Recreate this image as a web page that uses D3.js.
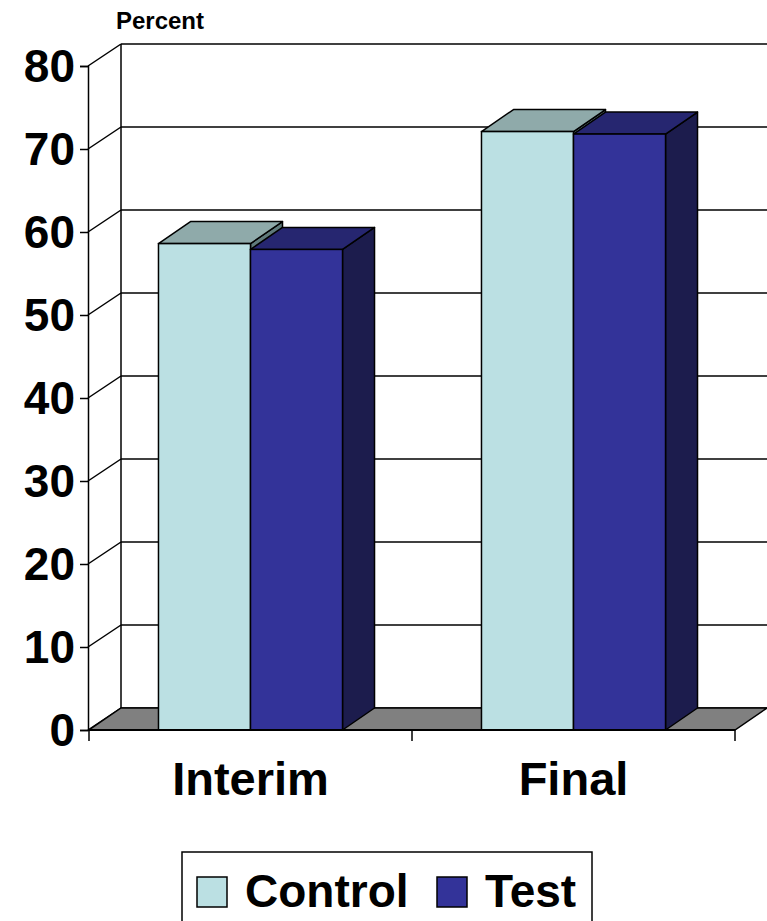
<!DOCTYPE html>
<html>
<head>
<meta charset="utf-8">
<script src="https://cdn.jsdelivr.net/npm/d3@7"></script>
<style>
  body { margin: 0; background: #fff; }
  text { font-family: Arial, "Liberation Sans", sans-serif; font-weight: bold; fill: #000; }
</style>
</head>
<body>
<div id="chart"></div>
<script>
// data
var categories = ["Interim", "Final"];
var seriesNames = ["Control", "Test"];
var controlValues = [58.6, 72.1];
var testValues = [57.9, 71.8];
var yTicks = [0, 10, 20, 30, 40, 50, 60, 70, 80];

var width = 767, height = 921;
var dx = 32, dy = -22; // depth of the 3d box

var colors = {
  Control: { front: "#bbe0e3", top: "#8faaaa", side: "#5f7a7b" },
  Test:    { front: "#333399", top: "#262670", side: "#1c1c4d" }
};

var svg = d3.select("#chart").append("svg")
    .attr("width", width)
    .attr("height", height);

var x0 = d3.scaleBand().domain(categories).range([89, 735]).padding(0);
var x1 = d3.scaleBand().domain(seriesNames).range([0, x0.bandwidth()])
    .paddingInner(0).paddingOuter(0.755);
var y = d3.scaleLinear().domain([0, 80]).range([730, 66]);

var x0L = x0.range()[0], x0R = x0.range()[1];

// back wall grid lines
svg.append("g").selectAll("line.grid")
  .data(yTicks)
  .enter().append("line")
    .attr("x1", x0L + dx).attr("x2", x0R + dx)
    .attr("y1", d => y(d) + dy).attr("y2", d => y(d) + dy)
    .attr("stroke", "#000").attr("stroke-width", 1.5);

// left side wall: diagonals
svg.append("g").selectAll("line.diag")
  .data(yTicks)
  .enter().append("line")
    .attr("x1", x0L - 1).attr("x2", x0L + dx)
    .attr("y1", d => y(d)).attr("y2", d => y(d) + dy)
    .attr("stroke", "#000").attr("stroke-width", 1.5);

// back wall left edge
svg.append("line")
  .attr("x1", x0L + dx).attr("x2", x0L + dx)
  .attr("y1", y(80) + dy).attr("y2", y(0) + dy)
  .attr("stroke", "#000").attr("stroke-width", 1.5);

// floor
var floorPts = [[x0L, y(0)], [x0R, y(0)], [x0R + dx, y(0) + dy], [x0L + dx, y(0) + dy]];
svg.append("polygon")
  .attr("points", floorPts.map(p => p.join(",")).join(" "))
  .attr("fill", "#808080").attr("stroke", "#000").attr("stroke-width", 1.5);

// bars
var groups = svg.append("g").selectAll("g.cat")
  .data(categories)
  .enter().append("g")
    .attr("transform", d => "translate(" + x0(d) + ",0)");

groups.each(function(cat, i) {
  var g = d3.select(this);
  var rows = [
    { name: "Control", value: controlValues[i] },
    { name: "Test", value: testValues[i] }
  ];
  rows.forEach(function(r) {
    var xl = x1(r.name), xr = xl + x1.bandwidth();
    var yt = y(r.value), yb = y(0);
    var c = colors[r.name];
    g.append("polygon") // side
      .attr("points", [[xr, yt], [xr + dx, yt + dy], [xr + dx, yb + dy], [xr, yb]].map(p => p.join(",")).join(" "))
      .attr("fill", c.side).attr("stroke", "#000").attr("stroke-width", 1.5).attr("stroke-linejoin", "round");
    g.append("polygon") // top
      .attr("points", [[xl, yt], [xl + dx, yt + dy], [xr + dx, yt + dy], [xr, yt]].map(p => p.join(",")).join(" "))
      .attr("fill", c.top).attr("stroke", "#000").attr("stroke-width", 1.5).attr("stroke-linejoin", "round");
    g.append("rect") // front
      .attr("x", xl).attr("y", yt)
      .attr("width", x1.bandwidth()).attr("height", yb - yt)
      .attr("fill", c.front).attr("stroke", "#000").attr("stroke-width", 1.5);
  });
});

// value axis
var yAxis = d3.axisLeft(y).tickValues(yTicks).tickSize(8).tickPadding(5);
var ya = svg.append("g").attr("transform", "translate(" + (x0L - 1) + ",0)").call(yAxis);
ya.select(".domain").attr("stroke-width", 1.5);
ya.selectAll(".tick line").attr("stroke-width", 1.5);
ya.selectAll(".tick text").style("font-size", "46px").attr("dy", "0.34em");

// category axis
var xAxis = d3.axisBottom(x0).tickSize(10).tickPadding(22);
var xa = svg.append("g").attr("transform", "translate(0," + y(0) + ")").call(xAxis);
xa.select(".domain").remove();
xa.selectAll(".tick line").remove();
xa.selectAll(".tick text").style("font-size", "47px");
xa.selectAll(".catTick")
  .data([x0L, x0(categories[1]), x0R])
  .enter().append("line")
    .attr("x1", d => d).attr("x2", d => d)
    .attr("y1", 0).attr("y2", 11)
    .attr("stroke", "#000").attr("stroke-width", 1.5);
svg.append("line")
  .attr("x1", x0L).attr("x2", x0R).attr("y1", y(0)).attr("y2", y(0))
  .attr("stroke", "#000").attr("stroke-width", 2);

// axis title
svg.append("text")
  .attr("x", 160).attr("y", 29)
  .attr("text-anchor", "middle")
  .style("font-size", "24px")
  .text("Percent");

// legend
var legend = svg.append("g");
legend.append("rect")
  .attr("x", 182).attr("y", 852).attr("width", 410).attr("height", 80)
  .attr("fill", "#fff").attr("stroke", "#000").attr("stroke-width", 1.5);
var legendX = [197, 437];
seriesNames.forEach(function(s, i) {
  legend.append("rect")
    .attr("x", legendX[i]).attr("y", 877).attr("width", 30).attr("height", 30)
    .attr("fill", colors[s].front).attr("stroke", "#000").attr("stroke-width", 1.5);
  legend.append("text")
    .attr("x", legendX[i] + 48).attr("y", 907)
    .style("font-size", "46px")
    .text(s);
});
</script>
</body>
</html>
